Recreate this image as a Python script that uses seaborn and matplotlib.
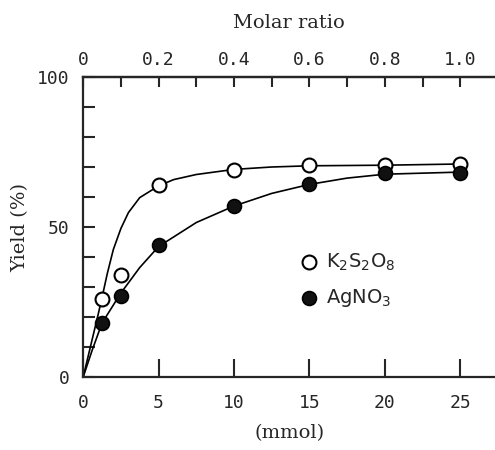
import numpy as np
import seaborn as sns
import matplotlib.pyplot as plt

# measured points (mmol, yield %)
mmol = [1.25, 2.5, 5, 10, 15, 20, 25]
yield_k2s2o8 = [26, 34, 64, 69, 70.5, 70.5, 71]
yield_agno3 = [18, 27, 44, 57, 64.5, 68, 68]

# hand-drawn fit curves
curve_k_x = [0, 0.5, 1.0, 1.25, 1.6, 2.0, 2.5, 3.0, 3.75, 5, 6, 7.5, 10, 12.5, 15, 20, 25]
curve_k_y = [0, 10.5, 21, 26.5, 34.5, 42.5, 49.5, 54.8, 59.8, 63.7, 65.8, 67.5, 69.2, 70, 70.4, 70.6, 71]
curve_a_x = [0, 0.6, 1.25, 2.5, 3.75, 5, 7.5, 10, 12.5, 15, 17.5, 20, 25]
curve_a_y = [0, 9, 18, 28, 36.5, 43.5, 51.5, 57, 61.2, 64.2, 66.3, 67.6, 68.3]

mmol_ticks = [0, 5, 10, 15, 20, 25]
ratio_ticks = [0, 0.2, 0.4, 0.6, 0.8, 1.0]
yield_ticks = [0, 50, 100]

sns.set_style("ticks")
plt.rcParams['font.family'] = ['DejaVu Sans']

fig = plt.figure(figsize=(4.95, 4.5), dpi=100)
ax = fig.add_axes([0.168, 0.162, 0.832, 0.667])

sns.lineplot(x=curve_k_x, y=curve_k_y, ax=ax, color='black', lw=1.2, zorder=2)
sns.lineplot(x=curve_a_x, y=curve_a_y, ax=ax, color='black', lw=1.2, zorder=2)

sns.scatterplot(x=mmol, y=yield_k2s2o8, ax=ax, marker='o', s=100, facecolor='white',
                edgecolor='black', linewidth=1.5, zorder=3, label=r'K$_2$S$_2$O$_8$')
sns.scatterplot(x=mmol, y=yield_agno3, ax=ax, marker='o', s=100, color='#111111',
                edgecolor='black', linewidth=1.2, zorder=3, label=r'AgNO$_3$')

ax.set_xlim(0, 27.3)
ax.set_ylim(0, 100)
for side in ['left', 'bottom', 'top']:
    ax.spines[side].set_linewidth(1.6)
ax.spines['right'].set_visible(False)

ax.set_xticks(mmol_ticks)
ax.set_yticks(np.arange(0, 101, 10))
ax.set_yticklabels([str(v) if v in yield_ticks else '' for v in range(0, 101, 10)])
ax.tick_params(axis='x', direction='in', length=13, width=1.5, pad=12, labelsize=13)
ax.tick_params(axis='y', direction='in', length=8.5, width=1.5, pad=10, labelsize=13)
for lab in ax.get_xticklabels() + ax.get_yticklabels():
    lab.set_family('DejaVu Sans Mono')

top = ax.secondary_xaxis('top', functions=(lambda x: x / 25, lambda r: r * 25))
top.set_xticks(np.round(np.arange(0, 1.01, 0.1), 1))
top.set_xticklabels([f'{v:.1f}' if v in ratio_ticks and v > 0 else ('0' if v == 0 else '')
                     for v in np.round(np.arange(0, 1.01, 0.1), 1)])
top.tick_params(direction='in', length=7, width=1.5, pad=6, labelsize=13)
top.spines['top'].set_linewidth(1.6)
for lab in top.get_xticklabels():
    lab.set_family('DejaVu Sans Mono')
top.set_xlabel('Molar ratio', family='DejaVu Serif', fontsize=14, labelpad=16)

ax.set_xlabel('(mmol)', family='DejaVu Serif', fontsize=14, labelpad=9)
ax.set_ylabel('Yield (%)', family='DejaVu Serif', fontsize=14, labelpad=5)

ax.legend(loc='upper left', bbox_to_anchor=(0.505, 0.445), frameon=False, fontsize=14,
          handletextpad=0.4, labelspacing=0.75, borderaxespad=0, handlelength=1)

fig.savefig('out.png', dpi=100)
